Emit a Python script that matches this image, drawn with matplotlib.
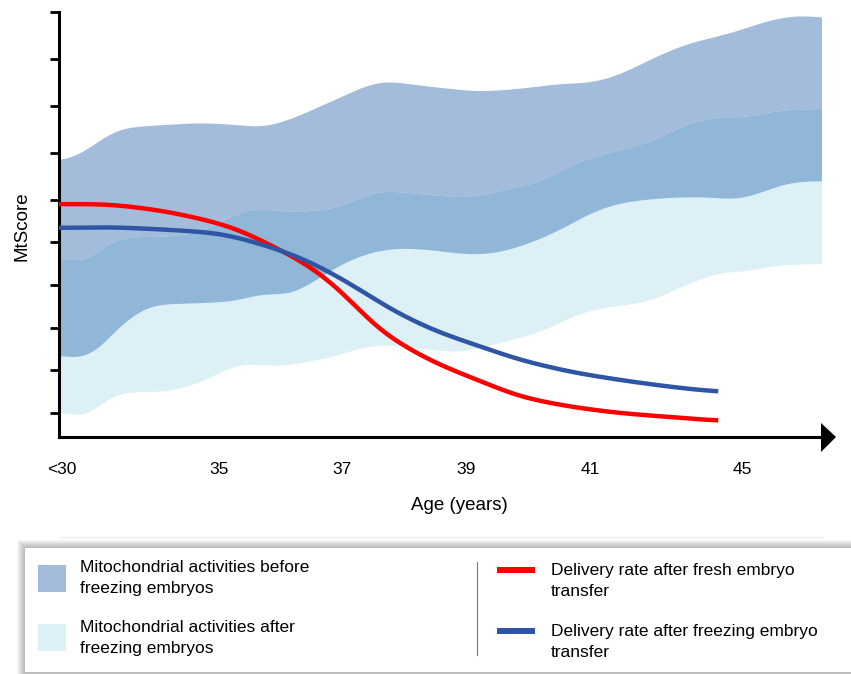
"""MtScore vs age — mitochondrial activity bands and delivery-rate curves"""

import numpy as np
import matplotlib
matplotlib.use('Agg')
import matplotlib.pyplot as plt
from matplotlib.patches import Rectangle, Polygon

plt.rcParams['font.family'] = ['Liberation Sans', 'DejaVu Sans']

# === data (x: position along the age axis 0..100, y: MtScore 0..100) ===
x_ticks = [0.4, 21.0, 37.1, 53.3, 69.6, 89.5]
x_labels = ['<30', '35', '37', '39', '41', '45']
y_ticks = [100, 88.9, 77.9, 66.8, 55.8, 45.9, 35.8, 25.6, 15.8, 5.6]

before_up_x = [0, 2.75, 5.37, 8.0, 11.9, 18.5, 23.7, 26.6, 30.3, 32.9, 36.8, 40.8, 42.7,
               48.6, 55.2, 60.4, 65.7, 70.0, 73.5, 78.8, 82.3, 88.3, 93.2, 97.1, 100]
before_up_y = [64.9, 66.1, 69.9, 72.7, 73.2, 73.9, 73.4, 72.7, 74.6, 76.7, 79.8, 83.1, 83.8,
               82.4, 81.2, 81.9, 83.1, 83.3, 85.2, 89.9, 92.5, 95.1, 98.1, 99.3, 98.6]
before_lo_x = [0, 3.0, 5.37, 8.0, 11.9, 18.5, 22.8, 27.0, 30.3, 34.2, 36.8, 40.8, 44.7,
               48.6, 53.9, 57.8, 63.0, 67.0, 69.6, 73.5, 78.8, 84.0, 89.3, 91.9, 95.8, 100]
before_lo_y = [19.3, 18.1, 20.5, 26.4, 31.1, 31.5, 31.8, 33.9, 33.2, 37.4, 40.5, 43.5, 44.5,
               44.0, 42.8, 43.3, 46.4, 49.9, 52.7, 55.1, 56.2, 56.5, 55.8, 57.4, 60.0, 60.2]

after_up_x = [0, 3.67, 6.29, 9.3, 14.5, 18.5, 21.8, 25.0, 30.3, 35.5, 39.4, 41.7, 44.7,
              48.6, 54.3, 56.5, 63.0, 67.6, 73.5, 77.5, 82.7, 86.9, 89.9, 94.5, 100]
after_up_y = [42.4, 40.5, 45.9, 47.1, 47.1, 48.0, 51.1, 53.9, 52.9, 53.4, 55.8, 58.1, 57.6,
              56.9, 56.2, 57.4, 59.8, 64.5, 67.5, 69.2, 74.1, 75.3, 75.1, 76.9, 77.2]
after_lo_x = [0, 2.1, 4.06, 5.37, 6.68, 9.3, 14.5, 18.5, 23.7, 29.0, 35.5, 40.8, 43.4,
              48.6, 52.6, 57.8, 63.0, 68.3, 72.2, 77.5, 82.7, 86.6, 89.9, 94.5, 100]
after_lo_y = [5.9, 4.9, 4.5, 7.5, 9.9, 10.6, 10.6, 12.7, 17.4, 16.5, 18.6, 21.6, 21.6,
              20.5, 19.8, 22.1, 24.5, 29.2, 30.6, 31.8, 36.2, 38.8, 38.8, 40.5, 40.7]

fresh_x = [0, 6.55, 13.1, 18.3, 22.4, 24.6, 29.0, 32.0, 34.6, 36.8, 39.1, 40.8, 42.5,
           45.6, 49.9, 53.9, 60.4, 67.0, 73.5, 80.1, 86.4]
fresh_y = [54.8, 54.8, 53.4, 51.5, 49.6, 48.0, 44.0, 41.2, 38.1, 34.6, 30.6, 26.8, 24.5,
           20.9, 16.9, 14.1, 9.4, 7.1, 5.6, 4.7, 3.8]
frozen_x = [0, 6.55, 13.1, 21.0, 24.6, 29.0, 32.5, 35.5, 39.1, 42.1, 45.6, 49.9, 53.9,
            60.4, 67.0, 73.5, 80.1, 86.4]
frozen_y = [49.2, 49.4, 48.9, 48.0, 46.4, 44.0, 41.6, 38.8, 35.1, 31.5, 28.0, 24.5, 22.1,
            18.1, 15.3, 13.4, 11.8, 10.6]

c_before = '#a3bcdb'
c_after = '#dcf0f6'
c_both = '#90b6d8'
c_red = '#ff0000'
c_blue = '#2f56a5'


def smooth(x, y, sigma=1.6):
    # 선형 보간 후 가우시안으로 부드럽게 (끝값으로 패딩)
    xs = np.linspace(x[0], x[-1], 600)
    ys = np.interp(xs, x, y)
    step = xs[1] - xs[0]
    half = int(4 * sigma / step)
    k = np.exp(-0.5 * (np.arange(-half, half + 1) * step / sigma) ** 2)
    k /= k.sum()
    pad = np.r_[np.full(half, ys[0]), ys, np.full(half, ys[-1])]
    return xs, np.convolve(pad, k, mode='valid')


def band(ax, xu, yu, xl, yl, color, z):
    ux, uy = smooth(xu, yu)
    lx, ly = smooth(xl, yl)
    ax.add_patch(Polygon(np.column_stack([np.r_[ux, lx[::-1]], np.r_[uy, ly[::-1]]]),
                         closed=True, facecolor=color, edgecolor='none', zorder=z))


fig = plt.figure(figsize=(8.51, 6.74), dpi=100)
ax = fig.add_axes([59 / 851, (674 - 437) / 674, 763 / 851, 425 / 674])

band(ax, before_up_x, before_up_y, before_lo_x, before_lo_y, c_before, 1)
band(ax, after_up_x, after_up_y, after_lo_x, after_lo_y, c_after, 1.1)
# overlap: top of "after" band down to bottom of "before" band
band(ax, after_up_x, after_up_y, before_lo_x, before_lo_y, c_both, 1.2)

ax.plot(*smooth(fresh_x, fresh_y, 2.2), color=c_red, lw=3.2, zorder=3,
        solid_capstyle='butt')
ax.plot(*smooth(frozen_x, frozen_y, 2.2), color=c_blue, lw=3.2, zorder=3,
        solid_capstyle='butt')

ax.set_xlim(0, 100)
ax.set_ylim(0, 100)
for s in ['top', 'right']:
    ax.spines[s].set_visible(False)
for s in ['left', 'bottom']:
    ax.spines[s].set_linewidth(2.2)
ax.set_yticks(y_ticks)
ax.set_yticklabels([])
ax.tick_params(axis='y', length=6.5, width=2)
ax.set_xticks(x_ticks)
ax.set_xticklabels(x_labels, fontsize=12.5)
ax.tick_params(axis='x', length=0, pad=18)

# === 장식용 오버레이 (픽셀 좌표) ===
deco = fig.add_axes([0, 0, 1, 1], zorder=5)
deco.set_xlim(0, 851)
deco.set_ylim(674, 0)
deco.axis('off')
deco.patch.set_alpha(0)

deco.add_patch(Polygon([[821, 423], [836, 437], [821, 452]], closed=True,
                       facecolor='black', edgecolor='none'))
deco.text(22, 226, 'MtScore', rotation=90, ha='center', va='center', fontsize=13.5)
deco.text(459, 505, 'Age (years)', ha='center', va='center', fontsize=13.5)
deco.plot([60, 822], [537, 537], color='#eeeeee', lw=1)

# legend box with soft shadow
for i in range(8, 0, -1):
    deco.add_patch(Rectangle((25 - i, 548 - i), 840, 124 + 2 * i, facecolor='#000000',
                             alpha=0.035, edgecolor='none'))
deco.add_patch(Rectangle((25, 548), 840, 124, facecolor='white', edgecolor='none'))

deco.add_patch(Rectangle((38, 565), 28, 27, facecolor=c_before, edgecolor='none'))
deco.add_patch(Rectangle((38, 624), 28, 27, facecolor=c_after, edgecolor='none'))
deco.add_patch(Rectangle((497, 567), 38, 6, facecolor=c_red, edgecolor='none'))
deco.add_patch(Rectangle((497, 628), 38, 6, facecolor=c_blue, edgecolor='none'))
deco.plot([477, 477], [562, 655], color='#777777', lw=0.8)

leg_kw = dict(ha='left', va='center', fontsize=12.5, linespacing=1.45)
deco.text(80, 578, 'Mitochondrial activities before\nfreezing embryos', **leg_kw)
deco.text(80, 638, 'Mitochondrial activities after\nfreezing embryos', **leg_kw)
deco.text(551, 581, 'Delivery rate after fresh embryo\ntransfer', **leg_kw)
deco.text(551, 642, 'Delivery rate after freezing embryo\ntransfer', **leg_kw)

plt.savefig('out.png', dpi=100)
